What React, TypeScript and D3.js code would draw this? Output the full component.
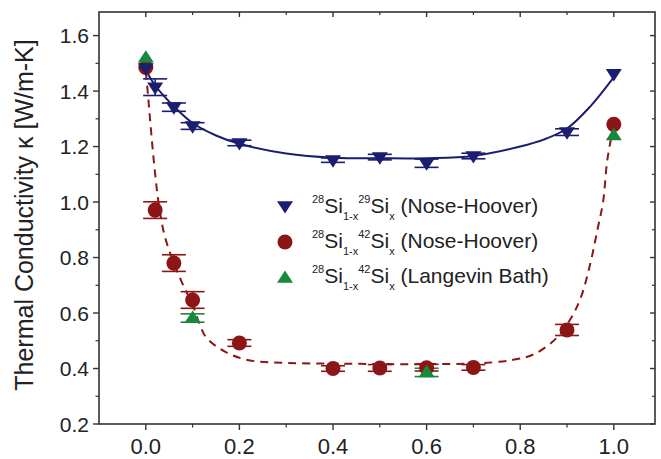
import React from "react";
import * as d3 from "d3";

const xTicks = [0.0, 0.2, 0.4, 0.6, 0.8, 1.0];
const xMinor = [0.1, 0.3, 0.5, 0.7, 0.9];
const yTicks = [0.2, 0.4, 0.6, 0.8, 1.0, 1.2, 1.4, 1.6];
const yMinor = [0.3, 0.5, 0.7, 0.9, 1.1, 1.3, 1.5];

const blueX = [0, 0.02, 0.06, 0.1, 0.2, 0.4, 0.5, 0.6, 0.7, 0.9, 1.0];
const blueY = [1.483, 1.414, 1.342, 1.274, 1.213, 1.151, 1.162, 1.14, 1.166, 1.252, 1.462];
const blueErr = [0, 0.03, 0.015, 0.012, 0.01, 0.008, 0.01, 0.015, 0.01, 0.012, 0];

const redX = [0, 0.02, 0.06, 0.1, 0.2, 0.4, 0.5, 0.6, 0.7, 0.9, 1.0];
const redY = [1.485, 0.971, 0.78, 0.647, 0.492, 0.4, 0.402, 0.403, 0.404, 0.539, 1.28];
const redErr = [0, 0.03, 0.03, 0.03, 0.012, 0.01, 0.012, 0.012, 0.01, 0.02, 0];

const greenX = [0, 0.1, 0.6, 1.0];
const greenY = [1.52, 0.582, 0.386, 1.24];
const greenErr = [0, 0.015, 0.015, 0];

const blueFitX = [0, 0.02, 0.04, 0.06, 0.1, 0.15, 0.2, 0.3, 0.4, 0.5, 0.6, 0.7, 0.8, 0.85, 0.9, 0.95, 1.0];
const blueFitY = [1.475, 1.42, 1.38, 1.345, 1.285, 1.24, 1.21, 1.175, 1.16, 1.158, 1.158, 1.166, 1.2, 1.225, 1.265, 1.345, 1.45];

const redFitX = [0, 0.005, 0.01, 0.02, 0.028, 0.04, 0.06, 0.08, 0.1, 0.115, 0.13, 0.17, 0.22, 0.3, 0.4, 0.5, 0.6, 0.7, 0.78, 0.83, 0.88, 0.91, 0.93, 0.95, 0.965, 0.977, 0.986, 1.0];
const redFitY = [1.47, 1.38, 1.28, 1.1, 0.99, 0.88, 0.78, 0.7, 0.63, 0.56, 0.51, 0.46, 0.43, 0.42, 0.418, 0.416, 0.416, 0.418, 0.43, 0.452, 0.514, 0.586, 0.658, 0.78, 0.9, 1.0, 1.15, 1.28];

const legendNames = ["(Nose-Hoover)", "(Nose-Hoover)", "(Langevin Bath)"];
const legendSup2 = ["29", "42", "42"];

const BLUE = "#1b1d70";
const RED = "#8c1515";
const GREEN = "#17893b";
const AXIS = "#333";

const W = 661, H = 459;
const L = 99, R = 655, T = 12, B = 424;

export default function App() {
  const x = d3.scaleLinear().domain([-0.1, 1.088]).range([L, R]);
  const y = d3.scaleLinear().domain([0.2, 1.685]).range([B, T]);

  const line = d3
    .line<[number, number]>()
    .x((d) => x(d[0]))
    .y((d) => y(d[1]))
    .curve(d3.curveCatmullRom.alpha(0.5));

  const bluePath = line(blueFitX.map((v, i) => [v, blueFitY[i]]) as [number, number][]) || "";
  const redPath = line(redFitX.map((v, i) => [v, redFitY[i]]) as [number, number][]) || "";

  const capW = 12;
  const errBars = (xs: number[], ys: number[], es: number[], color: string, key: string) =>
    xs.map((xv, i) => {
      if (!es[i]) return null;
      const cx = x(xv);
      const y1 = y(ys[i] + es[i]);
      const y2 = y(ys[i] - es[i]);
      return (
        <g key={key + i} stroke={color} strokeWidth={1.6}>
          <line x1={cx} x2={cx} y1={y1} y2={y2} />
          <line x1={cx - capW} x2={cx + capW} y1={y1} y2={y1} />
          <line x1={cx - capW} x2={cx + capW} y1={y2} y2={y2} />
        </g>
      );
    });

  const triDown = (cx: number, cy: number, s: number) =>
    `M${cx - s},${cy - s * 0.6}L${cx + s},${cy - s * 0.6}L${cx},${cy + s * 0.95}Z`;
  const triUp = (cx: number, cy: number, s: number) =>
    `M${cx - s},${cy + s * 0.6}L${cx + s},${cy + s * 0.6}L${cx},${cy - s * 0.95}Z`;

  const legendMarkers = [
    <path key="lm0" d={triDown(285, 206, 8)} fill={BLUE} />,
    <circle key="lm1" cx={285} cy={242} r={7.5} fill={RED} />,
    <path key="lm2" d={triUp(285, 278, 8)} fill={GREEN} />,
  ];
  const legendBase = [213, 248, 283];

  return (
    <svg
      width={W}
      height={H}
      style={{ position: "absolute", left: 0, top: 0, background: "#fff" }}
      fontFamily="'Liberation Sans', Arial, sans-serif"
    >
      <rect x={0} y={0} width={W} height={H} fill="#fff" />
      {/* frame */}
      <rect x={L} y={T} width={R - L} height={B - T} fill="none" stroke={AXIS} strokeWidth={1.6} />

      {/* bottom ticks (outward) and top ticks (inward) */}
      {xTicks.map((t) => (
        <g key={"xt" + t} stroke={AXIS} strokeWidth={1.4}>
          <line x1={x(t)} x2={x(t)} y1={B} y2={B + 6} />
          <line x1={x(t)} x2={x(t)} y1={T} y2={T + 5} />
        </g>
      ))}
      {xMinor.map((t) => (
        <g key={"xm" + t} stroke={AXIS} strokeWidth={1.2}>
          <line x1={x(t)} x2={x(t)} y1={B} y2={B + 3.5} />
          <line x1={x(t)} x2={x(t)} y1={T} y2={T + 3} />
        </g>
      ))}
      {yTicks.map((t) => (
        <g key={"yt" + t} stroke={AXIS} strokeWidth={1.4}>
          <line x1={L - 6} x2={L} y1={y(t)} y2={y(t)} />
          <line x1={R - 5} x2={R} y1={y(t)} y2={y(t)} />
        </g>
      ))}
      {yMinor.map((t) => (
        <g key={"ym" + t} stroke={AXIS} strokeWidth={1.2}>
          <line x1={L - 3.5} x2={L} y1={y(t)} y2={y(t)} />
          <line x1={R - 3} x2={R} y1={y(t)} y2={y(t)} />
        </g>
      ))}

      {/* tick labels */}
      {xTicks.map((t) => (
        <text key={"xl" + t} x={x(t)} y={454} textAnchor="middle" fontSize={22} fill="#222">
          {d3.format(".1f")(t)}
        </text>
      ))}
      {yTicks.map((t) => (
        <text key={"yl" + t} x={89} y={y(t) + 7.5} textAnchor="end" fontSize={21} fill="#222">
          {d3.format(".1f")(t)}
        </text>
      ))}

      <text
        transform={`translate(33,215) rotate(-90)`}
        textAnchor="middle"
        fontSize={25}
        fill="#222"
      >
        Thermal Conductivity κ [W/m-K]
      </text>

      {/* fits */}
      <path d={redPath} fill="none" stroke={RED} strokeWidth={2} strokeDasharray="8,6" />
      <path d={bluePath} fill="none" stroke={BLUE} strokeWidth={2} />

      {/* error bars */}
      {errBars(redX, redY, redErr, RED, "re")}
      {errBars(blueX, blueY, blueErr, BLUE, "be")}
      {errBars(greenX, greenY, greenErr, GREEN, "ge")}

      {/* markers */}
      {redX.map((v, i) => (
        <circle key={"rc" + i} cx={x(v)} cy={y(redY[i])} r={7.5} fill={RED} />
      ))}
      {blueX.map((v, i) => (
        <path key={"bt" + i} d={triDown(x(v), y(blueY[i]), 8)} fill={BLUE} />
      ))}
      {greenX.map((v, i) => (
        <path key={"gt" + i} d={triUp(x(v), y(greenY[i]), 8)} fill={GREEN} />
      ))}

      {/* legend */}
      {legendMarkers}
      {legendNames.map((name, i) => (
        <text key={"lt" + i} x={312} y={legendBase[i]} fontSize={21} fill="#222">
          <tspan fontSize={11} dy={-10}>28</tspan>
          <tspan fontSize={21} dy={10}>Si</tspan>
          <tspan fontSize={11} dy={7}>1-x</tspan>
          <tspan fontSize={11} dy={-17}>{legendSup2[i]}</tspan>
          <tspan fontSize={21} dy={10}>Si</tspan>
          <tspan fontSize={11} dy={7}>x</tspan>
          <tspan fontSize={21} dy={-7}>{" " + name}</tspan>
        </text>
      ))}
    </svg>
  );
}
